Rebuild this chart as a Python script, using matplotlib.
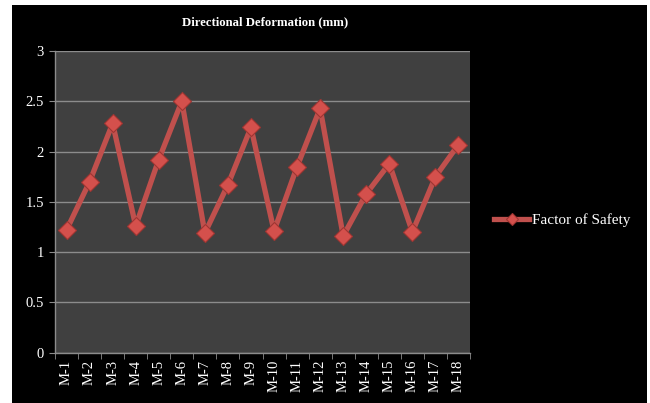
import matplotlib
matplotlib.use("Agg")
import matplotlib.pyplot as plt
from matplotlib.patches import Rectangle
import numpy as np

categories = ["M-1", "M-2", "M-3", "M-4", "M-5", "M-6", "M-7", "M-8", "M-9",
              "M-10", "M-11", "M-12", "M-13", "M-14", "M-15", "M-16", "M-17", "M-18"]
factor_of_safety = [1.22, 1.70, 2.28, 1.26, 1.92, 2.50, 1.19, 1.67, 2.24,
                    1.21, 1.85, 2.43, 1.16, 1.58, 1.88, 1.20, 1.75, 2.07]
y_ticks = [0, 0.5, 1, 1.5, 2, 2.5, 3]
y_tick_labels = ["0", "0.5", "1", "1.5", "2", "2.5", "3"]

plt.rcParams['font.family'] = ['Liberation Serif', 'DejaVu Serif']

W, H = 650, 403
fig = plt.figure(figsize=(W / 100, H / 100), dpi=100)
fig.patch.set_facecolor("white")
fig.patches.append(Rectangle((12 / W, 0), (647 - 12) / W, (H - 5) / H,
                             transform=fig.transFigure, facecolor="black",
                             edgecolor="none", zorder=-10))

ax = fig.add_axes([55 / W, 1 - 352.7 / H, (470 - 55) / W, (352.7 - 51) / H])
ax.set_zorder(1)
ax.set_facecolor("#404040")

x = np.arange(len(categories))
line_color = "#C0504D"
ax.plot(x, factor_of_safety, color=line_color, lw=3.8, marker="D",
        markersize=9, markerfacecolor="#D4504C", markeredgecolor="#9E3532",
        markeredgewidth=0.8, label="Factor of Safety", zorder=3,
        solid_joinstyle="miter")

ax.set_xlim(-0.5, len(categories) - 0.5)
ax.set_ylim(0, 3)
ax.set_yticks(y_ticks)
ax.set_yticklabels(y_tick_labels)
ax.yaxis.grid(True, color="#8C8C8C", lw=1)
ax.set_axisbelow(True)

ax.set_xticks(x)
ax.set_xticklabels(categories, rotation=90)
ax.set_xticks(np.arange(len(categories) + 1) - 0.5, minor=True)
ax.tick_params(axis="x", which="major", length=0, pad=5, colors="white", labelsize=10.5)
ax.tick_params(axis="x", which="minor", length=4, color="#8C8C8C")
ax.tick_params(axis="y", length=4, color="#8C8C8C", colors="white", labelsize=10.5, pad=4)
for lbl in ax.get_xticklabels() + ax.get_yticklabels():
    lbl.set_color("white")

for side in ["top", "right"]:
    ax.spines[side].set_visible(False)
for side in ["left", "bottom"]:
    ax.spines[side].set_color("#8C8C8C")
    ax.spines[side].set_linewidth(1)

fig.text(265 / W, 1 - 22 / H, "Directional Deformation (mm)", color="white",
         fontsize=9.2, fontweight="bold", ha="center", va="center", zorder=2)

leg = ax.legend(loc="center left", bbox_to_anchor=(488 / W, 1 - 220 / H),
                bbox_transform=fig.transFigure, frameon=False, fontsize=11,
                handlelength=2.3, handletextpad=0.15, borderaxespad=0,
                markerscale=0.7)
for t in leg.get_texts():
    t.set_color("white")

fig.savefig("out.png", dpi=100, facecolor=fig.get_facecolor())
